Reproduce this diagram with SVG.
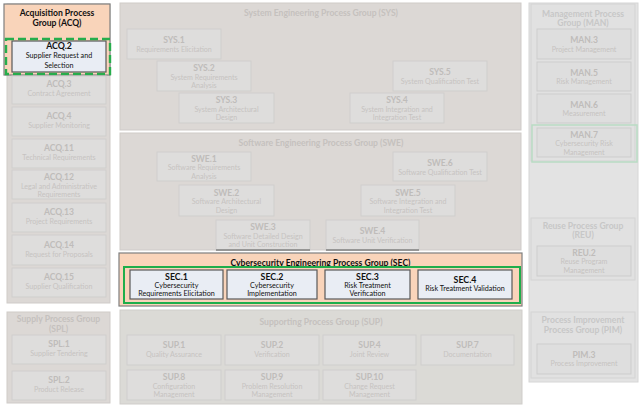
<svg xmlns="http://www.w3.org/2000/svg" width="642" height="407" viewBox="0 0 642 407">
<style>
text{font-family:Lato,"Liberation Sans",sans-serif;text-anchor:middle}
.cont{fill:#dcd8d5;stroke:#cfcbc8;stroke-width:1}
.sup{fill:#dbdad6;stroke:#cfcdca;stroke-width:1}
.rcol{fill:#e3e3e3;stroke:#d6d6d6;stroke-width:1}
.rgrp{fill:#e1e1e1;stroke:#d3d3d3;stroke-width:1}
.fn{fill:#dedddc;stroke:#cfcecd;stroke-width:1}
.rn{fill:#dedede;stroke:#cdcdcd;stroke-width:1}
.gt{font-size:8.6px;font-weight:bold;fill:#c5c1be}
.rgt{font-size:8.6px;font-weight:bold;fill:#c7c7c7}
.ft{font-size:8.6px;font-weight:bold;fill:#bfbcba}
.fd{font-size:7.1px;fill:#c6c3c1}
.hl{fill:#f9d4ba;stroke:#7f7f7f;stroke-width:1.2}
.hn{fill:#e9edf4;stroke:#595959;stroke-width:1.2}
.ht{font-size:8.8px;font-weight:bold;fill:#111}
.hd{font-size:7.2px;fill:#111}
.hgt{font-size:8.6px;font-weight:bold;fill:#111}
</style>

<!-- Left column: ACQ -->
<g id="acq-group">
  <rect class="cont" x="7" y="4" width="103" height="299"/>
  <rect class="hl" x="4" y="4" width="106" height="71"/>
  <text class="hgt" x="57" y="15.5">Acquisition Process</text>
  <text class="hgt" x="57" y="25.5">Group (ACQ)</text>
</g>
<g id="acq2">
  <rect class="hn" x="12" y="41" width="94" height="31"/>
  <text class="ht" x="59" y="48.5">ACQ.2</text>
  <text class="hd" x="59" y="57.5">Supplier Request and</text>
  <text class="hd" x="59" y="67.5">Selection</text>
  <rect x="6" y="39" width="104" height="35" fill="none" stroke="#27ad4c" stroke-width="2.4" stroke-dasharray="8,4"/>
</g>
<g id="acq3"><rect class="fn" x="12" y="76" width="94" height="28"/><text class="ft" x="59" y="87">ACQ.3</text><text class="fd" x="59" y="96">Contract Agreement</text></g>
<g id="acq4"><rect class="fn" x="12" y="107" width="94" height="29"/><text class="ft" x="59" y="119">ACQ.4</text><text class="fd" x="59" y="128">Supplier Monitoring</text></g>
<g id="acq11"><rect class="fn" x="12" y="139" width="94" height="29"/><text class="ft" x="59" y="151">ACQ.11</text><text class="fd" x="59" y="160">Technical Requirements</text></g>
<g id="acq12"><rect class="fn" x="12" y="170" width="94" height="29"/><text class="ft" x="59" y="180">ACQ.12</text><text class="fd" x="59" y="188.5">Legal and Administrative</text><text class="fd" x="59" y="196.5">Requirements</text></g>
<g id="acq13"><rect class="fn" x="12" y="203" width="94" height="29"/><text class="ft" x="59" y="215">ACQ.13</text><text class="fd" x="59" y="224">Project Requirements</text></g>
<g id="acq14"><rect class="fn" x="12" y="235" width="94" height="30"/><text class="ft" x="59" y="247.5">ACQ.14</text><text class="fd" x="59" y="256.5">Request for Proposals</text></g>
<g id="acq15"><rect class="fn" x="12" y="268" width="94" height="29"/><text class="ft" x="59" y="280">ACQ.15</text><text class="fd" x="59" y="289">Supplier Qualification</text></g>

<!-- SPL -->
<g id="spl-group">
  <rect class="cont" x="7" y="312" width="103" height="91"/>
  <text class="gt" x="58.5" y="322">Supply Process Group</text>
  <text class="gt" x="58.5" y="332">(SPL)</text>
</g>
<g id="spl1"><rect class="fn" x="12" y="335" width="94" height="29"/><text class="ft" x="59" y="347">SPL.1</text><text class="fd" x="59" y="356">Supplier Tendering</text></g>
<g id="spl2"><rect class="fn" x="12" y="371" width="94" height="29"/><text class="ft" x="59" y="383">SPL.2</text><text class="fd" x="59" y="392">Product Release</text></g>

<!-- SYS -->
<g id="sys-group">
  <rect class="cont" x="120" y="3" width="401" height="127"/>
  <text class="gt" x="321" y="16">System Engineering Process Group (SYS)</text>
</g>
<g id="sys1"><rect class="fn" x="127" y="29" width="94" height="30"/><text class="ft" x="174" y="43">SYS.1</text><text class="fd" x="174" y="51.5">Requirements Elicitation</text></g>
<g id="sys2"><rect class="fn" x="157" y="61" width="94" height="30"/><text class="ft" x="204" y="71">SYS.2</text><text class="fd" x="204" y="79.5">System Requirements</text><text class="fd" x="204" y="88">Analysis</text></g>
<g id="sys3"><rect class="fn" x="179" y="93" width="95" height="30"/><text class="ft" x="226.5" y="103">SYS.3</text><text class="fd" x="226.5" y="111.5">System Architectural</text><text class="fd" x="226.5" y="120">Design</text></g>
<g id="sys5"><rect class="fn" x="393" y="61" width="94" height="30"/><text class="ft" x="440" y="75">SYS.5</text><text class="fd" x="440" y="83.5">System Qualification Test</text></g>
<g id="sys4"><rect class="fn" x="350" y="93" width="94" height="30"/><text class="ft" x="397" y="103">SYS.4</text><text class="fd" x="397" y="111.5">System Integration and</text><text class="fd" x="397" y="120">Integration Test</text></g>

<!-- SWE -->
<g id="swe-group">
  <rect class="cont" x="120" y="133" width="401" height="117"/>
  <text class="gt" x="321" y="145.5">Software Engineering Process Group (SWE)</text>
</g>
<g id="swe1"><rect class="fn" x="157" y="152" width="94" height="29"/><text class="ft" x="204" y="161.5">SWE.1</text><text class="fd" x="204" y="170">Software Requirements</text><text class="fd" x="204" y="178.5">Analysis</text></g>
<g id="swe6"><rect class="fn" x="393" y="152" width="94" height="29"/><text class="ft" x="440" y="166">SWE.6</text><text class="fd" x="440" y="174.5">Software Qualification Test</text></g>
<g id="swe2"><rect class="fn" x="179" y="185" width="95" height="31"/><text class="ft" x="226.5" y="195.5">SWE.2</text><text class="fd" x="226.5" y="204">Software Architectural</text><text class="fd" x="226.5" y="212.5">Design</text></g>
<g id="swe5"><rect class="fn" x="361" y="185" width="94" height="31"/><text class="ft" x="408" y="195.5">SWE.5</text><text class="fd" x="408" y="204">Software Integration and</text><text class="fd" x="408" y="212.5">Integration Test</text></g>
<g id="swe3"><rect class="fn" x="216" y="220" width="94" height="30"/><line x1="216" y1="250" x2="310" y2="250" stroke="#808080" stroke-width="1.5"/><text class="ft" x="263" y="230">SWE.3</text><text class="fd" x="263" y="238.5">Software Detailed Design</text><text class="fd" x="263" y="247">and Unit Construction</text></g>
<g id="swe4"><rect class="fn" x="326" y="220" width="93" height="30"/><line x1="326" y1="250" x2="419" y2="250" stroke="#808080" stroke-width="1.5"/><text class="ft" x="372.5" y="234">SWE.4</text><text class="fd" x="372.5" y="242.5">Software Unit Verification</text></g>

<!-- SEC -->
<g id="sec-group">
  <rect class="hl" x="119" y="253" width="403" height="53"/>
  <text class="hgt" x="320.5" y="265.5">Cybersecurity Engineering Process Group (SEC)</text>
  <rect x="124" y="267" width="396" height="36" fill="none" stroke="#1fae4b" stroke-width="2"/>
</g>
<g id="sec1"><rect class="hn" x="130" y="270" width="93" height="29"/><text class="ht" x="176.5" y="279.5">SEC.1</text><text class="hd" x="176.5" y="287.5">Cybersecurity</text><text class="hd" x="176.5" y="295.5">Requirements Elicitation</text></g>
<g id="sec2"><rect class="hn" x="227" y="270" width="90" height="29"/><text class="ht" x="272" y="279.5">SEC.2</text><text class="hd" x="272" y="287.5">Cybersecurity</text><text class="hd" x="272" y="295.5">Implementation</text></g>
<g id="sec3"><rect class="hn" x="325" y="270" width="85" height="29"/><text class="ht" x="367.5" y="279.5">SEC.3</text><text class="hd" x="367.5" y="287.5">Risk Treatment</text><text class="hd" x="367.5" y="295.5">Verification</text></g>
<g id="sec4"><rect class="hn" x="418" y="270" width="94" height="29"/><text class="ht" x="465" y="283">SEC.4</text><text class="hd" x="465" y="291">Risk Treatment Validation</text></g>

<!-- SUP -->
<g id="sup-group">
  <rect class="sup" x="120" y="310" width="402" height="94"/>
  <text class="gt" x="321" y="324.5">Supporting Process Group (SUP)</text>
</g>
<g id="sup1"><rect class="fn" x="127" y="335" width="94" height="30"/><text class="ft" x="174" y="348">SUP.1</text><text class="fd" x="174" y="357">Quality Assurance</text></g>
<g id="sup2"><rect class="fn" x="225" y="335" width="94" height="30"/><text class="ft" x="272" y="348">SUP.2</text><text class="fd" x="272" y="357">Verification</text></g>
<g id="sup4"><rect class="fn" x="323" y="335" width="93" height="30"/><text class="ft" x="369.5" y="348">SUP.4</text><text class="fd" x="369.5" y="357">Joint Review</text></g>
<g id="sup7"><rect class="fn" x="421" y="335" width="93" height="30"/><text class="ft" x="467.5" y="348">SUP.7</text><text class="fd" x="467.5" y="357">Documentation</text></g>
<g id="sup8"><rect class="fn" x="127" y="370" width="94" height="30"/><text class="ft" x="174" y="380">SUP.8</text><text class="fd" x="174" y="388.5">Configuration</text><text class="fd" x="174" y="397">Management</text></g>
<g id="sup9"><rect class="fn" x="225" y="370" width="94" height="30"/><text class="ft" x="272" y="380">SUP.9</text><text class="fd" x="272" y="388.5">Problem Resolution</text><text class="fd" x="272" y="397">Management</text></g>
<g id="sup10"><rect class="fn" x="323" y="370" width="93" height="30"/><text class="ft" x="369.5" y="380">SUP.10</text><text class="fd" x="369.5" y="388.5">Change Request</text><text class="fd" x="369.5" y="397">Management</text></g>

<!-- Right column -->
<g id="right-column"><rect class="rcol" x="529" y="3" width="109" height="379"/></g>
<g id="man-group">
  <rect class="rgrp" x="531" y="4" width="104" height="157"/>
  <text class="rgt" x="583" y="16.5">Management Process</text>
  <text class="rgt" x="583" y="26">Group (MAN)</text>
</g>
<g id="man3"><rect class="rn" x="537" y="29" width="94" height="30"/><text class="ft" x="584" y="43">MAN.3</text><text class="fd" x="584" y="51.5">Project Management</text></g>
<g id="man5"><rect class="rn" x="537" y="62" width="94" height="29"/><text class="ft" x="584" y="75.5">MAN.5</text><text class="fd" x="584" y="84">Risk Management</text></g>
<g id="man6"><rect class="rn" x="537" y="94" width="94" height="29"/><text class="ft" x="584" y="107.5">MAN.6</text><text class="fd" x="584" y="116">Measurement</text></g>
<g id="man7"><rect class="rn" x="537" y="128" width="94" height="29"/><text class="ft" x="584" y="137.5">MAN.7</text><text class="fd" x="584" y="146">Cybersecurity Risk</text><text class="fd" x="584" y="154.5">Management</text>
  <rect x="532" y="125" width="105" height="37" fill="none" stroke="#b9dcc4" stroke-width="1.5"/></g>
<g id="reu-group">
  <rect class="rgrp" x="531" y="218" width="104" height="62"/>
  <text class="rgt" x="583" y="228.5">Reuse Process Group</text>
  <text class="rgt" x="583" y="238">(REU)</text>
</g>
<g id="reu2"><rect class="rn" x="537" y="246" width="94" height="30"/><text class="ft" x="584" y="255.5">REU.2</text><text class="fd" x="584" y="264">Reuse Program</text><text class="fd" x="584" y="272.5">Management</text></g>
<g id="pim-group">
  <rect class="rgrp" x="531" y="312" width="104" height="66"/>
  <text class="rgt" x="583" y="323">Process Improvement</text>
  <text class="rgt" x="583" y="332.5">Process Group (PIM)</text>
</g>
<g id="pim3"><rect class="rn" x="537" y="344" width="94" height="30"/><text class="ft" x="584" y="357.5">PIM.3</text><text class="fd" x="584" y="366">Process Improvement</text></g>
</svg>
